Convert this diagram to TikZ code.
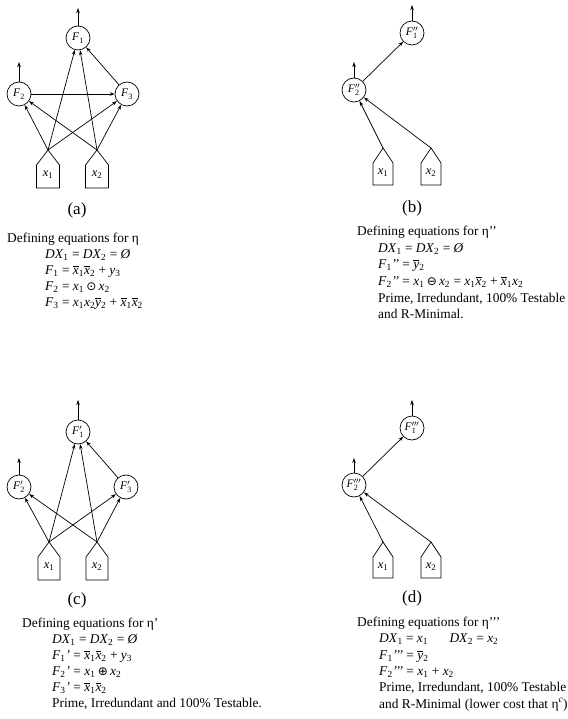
\documentclass[tikz,border=0pt]{standalone}
\usepackage{fontspec}
\usepackage{amsmath}
\setmainfont{Liberation Serif}
\newfontfamily\symfnt{DejaVu Sans}
\usetikzlibrary{arrows.meta}

% text-mode helpers for the equations
\newcommand{\vs}[2]{\textit{#1}\textsubscript{#2}}
\newcommand{\vb}[2]{$\overline{\text{\textit{#1}}}$\textsubscript{#2}}
\newcommand{\nul}{\textit{Ø}}
\newcommand{\opx}[1]{{\symfnt\fontsize{12}{13}\selectfont #1}}
% node labels with primes above the subscript
\newcommand{\fn}[2]{$\text{\textit{F}}^{#1}_{\text{#2}}$}
\newcommand{\xn}[1]{\textit{x}\textsubscript{#1}}

\tikzset{
  x=1pt, y=-1pt,
  fnode/.style={circle, draw, line width=0.7pt, minimum size=24pt, inner sep=0pt,
    font=\fontsize{11.5}{12}\selectfont},
  arr/.style={line width=0.7pt, -{Stealth[length=5pt,width=3.5pt]}},
  eqtext/.style={anchor=base west, inner sep=0pt, font=\fontsize{13.4}{15}\selectfont},
  caption/.style={font=\fontsize{17}{19}\selectfont},
  xlabel/.style={font=\fontsize{12.5}{13}\selectfont, inner sep=0pt},
}

% input box: pentagon hanging from its apex
\newcommand{\inbox}[6]{% name, x, y, half width, bottom, label
  \coordinate (#1) at (#2,#3);
  \draw[line width=0.7pt, shift={(#2,#3)}] (-#4,#5) -- (-#4,15) -- (0,0) -- (#4,15) -- (#4,#5) -- cycle;
  \node[xlabel] (#1-l) at (#2,#3+25) {\xn{#6}};
}

\begin{document}
\begin{tikzpicture}
\useasboundingbox (0,0) rectangle (567,719);

% ---------------- (a) ----------------
\node[fnode] (a1) at (78,38) {\fn{}{1}};
\node[fnode] (a2) at (19,94) {\fn{}{2}};
\node[fnode] (a3) at (127,94) {\fn{}{3}};
\coordinate (ao1) at (78,8);
\coordinate (ao2) at (19,62);
\inbox{ax1}{48}{150}{11.5}{38}{1}
\inbox{ax2}{97}{150}{11.5}{38}{2}
\draw[arr] (a1) -- (ao1);
\draw[arr] (a2) -- (ao2);
\foreach \s in {ax1,ax2}{
  \foreach \t in {a1,a2,a3}{ \draw[arr] (\s) -- (\t); }
}
\draw[arr] (a2) -- (a3);
\draw[arr] (a3) -- (a1);
\node[caption] (acap) at (77,210) {(a)};
\node[eqtext] (at0) at (7,242) {Defining equations for η};
\node[eqtext] (at1) at (45,258) {\textit{DX}\textsubscript{1} = \textit{DX}\textsubscript{2} = \nul};
\node[eqtext] (at2) at (45,274) {\vs{F}{1} = \vb{x}{1}\vb{x}{2} + \vs{y}{3}};
\node[eqtext] (at3) at (45,290) {\vs{F}{2} = \vs{x}{1}\,\opx{⊙}\,\vs{x}{2}};
\node[eqtext] (at4) at (45,306) {\vs{F}{3} = \vs{x}{1}\vs{x}{2}\vb{y}{2} + \vb{x}{1}\vb{x}{2}};

% ---------------- (b) ----------------
\node[fnode] (b1) at (412,33) {\fn{\prime\prime}{1}};
\node[fnode] (b2) at (354,90) {\fn{\prime\prime}{2}};
\coordinate (bo1) at (412,5);
\coordinate (bo2) at (354,62);
\inbox{bx1}{383}{148}{10}{37}{1}
\inbox{bx2}{431}{148}{10}{37}{2}
\draw[arr] (b1) -- (bo1);
\draw[arr] (b2) -- (bo2);
\draw[arr] (b2) -- (b1);
\draw[arr] (bx1) -- (b2);
\draw[arr] (bx2) -- (b2);
\node[caption] (bcap) at (412,208) {(b)};
\node[eqtext] (bt0) at (357,236) {Defining equations for η’’};
\node[eqtext] (bt1) at (378,252) {\textit{DX}\textsubscript{1} = \textit{DX}\textsubscript{2} = \nul};
\node[eqtext] (bt2) at (378,268) {\vs{F}{1}\textit{’’} = \vb{y}{2}};
\node[eqtext] (bt3) at (378,285) {\vs{F}{2}\textit{’’} = \vs{x}{1}\,\opx{⊖}\,\vs{x}{2} = \vs{x}{1}\vb{x}{2} + \vb{x}{1}\vs{x}{2}};
\node[eqtext] (bt4) at (378,302) {Prime, Irredundant, 100\% Testable};
\node[eqtext] (bt5) at (378,318) {and R-Minimal.};

% ---------------- (c) ----------------
\node[fnode] (c1) at (78,432) {\fn{\prime}{1}};
\node[fnode] (c2) at (19,487) {\fn{\prime}{2}};
\node[fnode] (c3) at (126,487) {\fn{\prime}{3}};
\coordinate (co1) at (78,400);
\coordinate (co2) at (19,458);
\inbox{cx1}{49}{542}{11}{38}{1}
\inbox{cx2}{97}{542}{11}{38}{2}
\draw[arr] (c1) -- (co1);
\draw[arr] (c2) -- (co2);
\foreach \s in {cx1,cx2}{
  \foreach \t in {c1,c2,c3}{ \draw[arr] (\s) -- (\t); }
}
\draw[arr] (c3) -- (c1);
\node[caption] (ccap) at (77,600) {(c)};
\node[eqtext] (ct0) at (22,627) {Defining equations for η’};
\node[eqtext] (ct1) at (52,643) {\textit{DX}\textsubscript{1} = \textit{DX}\textsubscript{2} = \nul};
\node[eqtext] (ct2) at (52,659) {\vs{F}{1}\textit{’} = \vb{x}{1}\vb{x}{2} + \vs{y}{3}};
\node[eqtext] (ct3) at (52,675) {\vs{F}{2}\textit{’} = \vs{x}{1}\,\opx{⊕}\,\vs{x}{2}};
\node[eqtext] (ct4) at (52,691) {\vs{F}{3}\textit{’} = \vb{x}{1}\vb{x}{2}};
\node[eqtext] (ct5) at (52,707) {Prime, Irredundant and 100\% Testable.};

% ---------------- (d) ----------------
\node[fnode] (d1) at (412,428) {\fn{\prime\prime\prime}{1}};
\node[fnode] (d2) at (354,485) {\fn{\prime\prime\prime}{2}};
\coordinate (do1) at (412,400);
\coordinate (do2) at (354,458);
\inbox{dx1}{383}{542}{10}{36}{1}
\inbox{dx2}{431}{542}{10}{36}{2}
\draw[arr] (d1) -- (do1);
\draw[arr] (d2) -- (do2);
\draw[arr] (d2) -- (d1);
\draw[arr] (dx1) -- (d2);
\draw[arr] (dx2) -- (d2);
\node[caption] (dcap) at (412,598) {(d)};
\node[eqtext] (dt0) at (357,626) {Defining equations for η’’’};
\node[eqtext] (dt1) at (379,642) {\textit{DX}\textsubscript{1} = \vs{x}{1}\hspace{1.6em}\textit{DX}\textsubscript{2} = \vs{x}{2}};
\node[eqtext] (dt2) at (379,659) {\vs{F}{1}\textit{’’’} = \vb{y}{2}};
\node[eqtext] (dt3) at (379,675) {\vs{F}{2}\textit{’’’} = \vs{x}{1} + \vs{x}{2}};
\node[eqtext] (dt4) at (379,691) {Prime, Irredundant, 100\% Testable};
\node[eqtext] (dt5) at (379,708) {and R-Minimal (lower cost that η\textsuperscript{\textit{c}})};
\end{tikzpicture}
\end{document}
